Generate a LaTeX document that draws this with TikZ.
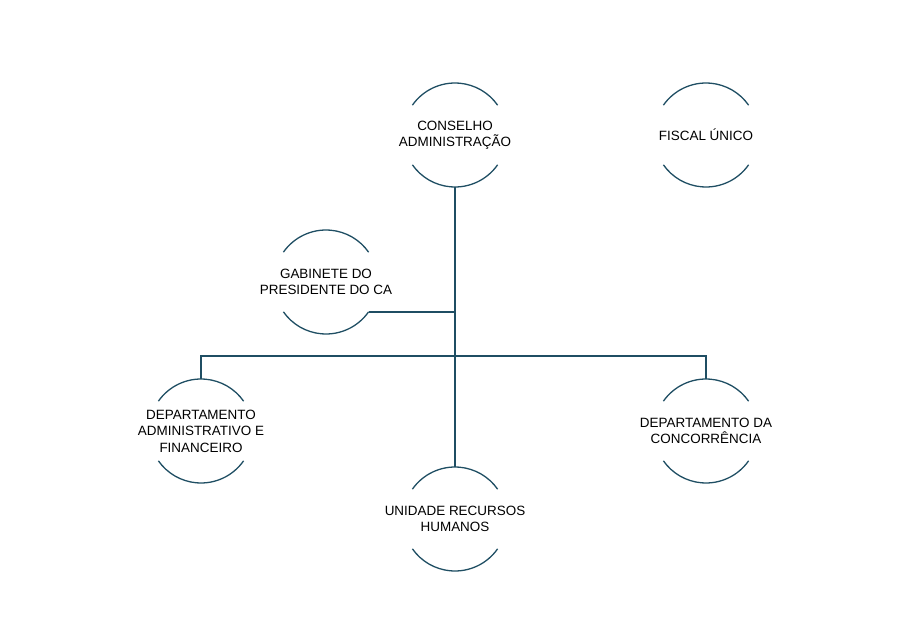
\documentclass[tikz,border=0pt]{standalone}
\usepackage{fontspec}
\setmainfont{Liberation Sans}
\usetikzlibrary{calc}
\definecolor{tealdark}{HTML}{1F4E63}
\tikzset{
    unit/.style={align=center, font=\fontsize{13.5}{16.5}\selectfont, text=black},
    link/.style={draw=tealdark, line width=1.6bp},
}
\newcommand{\unitarcs}[1]{
    \draw[tealdark, line width=1.3bp] ($(#1)+(35:52)$) arc (35:145:52);
    \draw[tealdark, line width=1.3bp] ($(#1)+(215:52)$) arc (215:325:52);
}

\begin{document}
\begin{tikzpicture}[x=1bp, y=-1bp]
        \useasboundingbox (0,0) rectangle (907,623);
        \coordinate (ca) at (455,135);
        \coordinate (fu) at (706,135);
        \coordinate (gp) at (326,282);
        \coordinate (da) at (201,431);
        \coordinate (rh) at (455,519);
        \coordinate (dc) at (706,431);
        \node[unit] (caText) at (ca) {CONSELHO\\ADMINISTRAÇÃO};
        \node[unit] (fuText) at (fu) {FISCAL ÚNICO};
        \node[unit] (gpText) at (gp) {GABINETE DO\\PRESIDENTE DO CA};
        \node[unit] (daText) at (da) {DEPARTAMENTO\\ADMINISTRATIVO E\\FINANCEIRO};
        \node[unit] (rhText) at (rh) {UNIDADE RECURSOS\\HUMANOS};
        \node[unit] (dcText) at (dc) {DEPARTAMENTO DA\\CONCORRÊNCIA};
        \foreach \c in {ca, fu, gp, da, rh, dc} {\unitarcs{\c}}
        \coordinate (caBottom) at ($(ca)+(0,52)$);
        \coordinate (rhTop) at ($(rh)+(0,-52)$);
        \coordinate (gpEnd) at ($(gp)+(35:52)$);
        \draw[link] (caBottom) -- (rhTop);
        \draw[link] (gpEnd) -- (gpEnd -| ca);
        \draw[link] ($(da)+(0,-52)$) |- (455,356) -| ($(dc)+(0,-52)$);
    \end{tikzpicture}
\end{document}
